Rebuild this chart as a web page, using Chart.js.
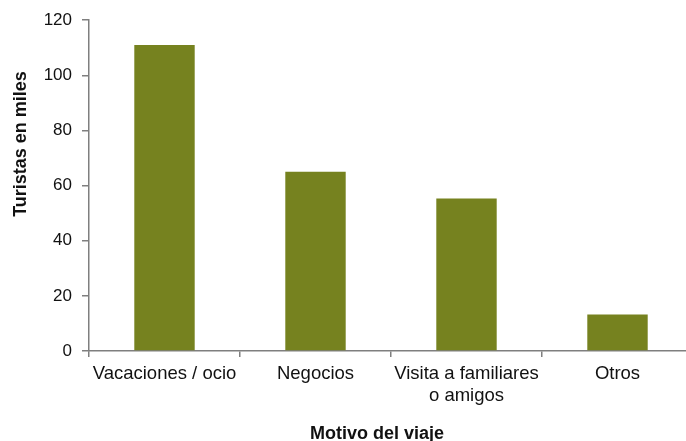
<!DOCTYPE html>
<html>
<head>
<meta charset="utf-8">
<script src="https://cdn.jsdelivr.net/npm/chart.js@4"></script>
<style>
	html, body { margin: 0; padding: 0; background: #fff; overflow: hidden; }
	#wrap { width: 686px; height: 441px; overflow: hidden; }
</style>
</head>
<body>
<div id="wrap"><canvas id="chart" width="700" height="446"></canvas></div>
<script>
// data
const categories = ['Vacaciones / ocio', 'Negocios', ['Visita a familiares', 'o amigos'], 'Otros'];
const turistas = [111, 65, 55.3, 13.2];
const yTicks = [0, 20, 40, 60, 80, 100, 120];
const yTitle = 'Turistas en miles';
const xTitle = 'Motivo del viaje';

const axisGrey = '#7f7f7f';
const font = 'Liberation Sans, Arial, Helvetica, sans-serif';

// axis titles sit off-centre in the original, so draw them by hand
const axisTitles = {
	id: 'axisTitles',
	afterDraw(chart) {
		const c = chart.ctx;
		c.save();
		c.fillStyle = '#111';
		c.font = 'bold 18px ' + font;
		c.textAlign = 'center';
		c.textBaseline = 'alphabetic';
		c.fillText(xTitle, 377, 439);
		c.translate(25.5, 144);
		c.rotate(-Math.PI / 2);
		c.fillText(yTitle, 0, 0);
		c.restore();
	},
};

const ctx = document.getElementById('chart').getContext('2d');
new Chart(ctx, {
	type: 'bar',
	data: {
		labels: categories,
		datasets: [
			{
				label: yTitle,
				data: turistas,
				backgroundColor: '#76821f',
				borderWidth: 0,
				barPercentage: 0.4,
				categoryPercentage: 1,
			},
		],
	},
	plugins: [axisTitles],
	options: {
		responsive: false,
		animation: false,
		layout: { padding: { top: 19, right: 7, left: 0, bottom: 0 } },
		plugins: { legend: { display: false }, tooltip: { enabled: false } },
		scales: {
			x: {
				offset: true,
				afterFit: (scale) => { scale.height = 95; },
				border: { color: axisGrey, width: 1.5 },
				grid: { offset: true, drawOnChartArea: false, color: axisGrey, lineWidth: 1.5, tickLength: 6 },
				ticks: { color: '#111', font: { family: font, size: 18.5, lineHeight: 1.2 }, padding: 6, maxRotation: 0 },
			},
			y: {
				min: 0,
				max: 120,
				afterFit: (scale) => { scale.width = 89; },
				afterBuildTicks: (scale) => { scale.ticks = yTicks.map((v) => ({ value: v })); },
				border: { color: axisGrey, width: 1.5 },
				grid: { drawOnChartArea: false, color: axisGrey, lineWidth: 1.5, tickLength: 7 },
				ticks: { color: '#111', font: { family: font, size: 17 }, padding: 10 },
			},
		},
	},
});
</script>
</body>
</html>
